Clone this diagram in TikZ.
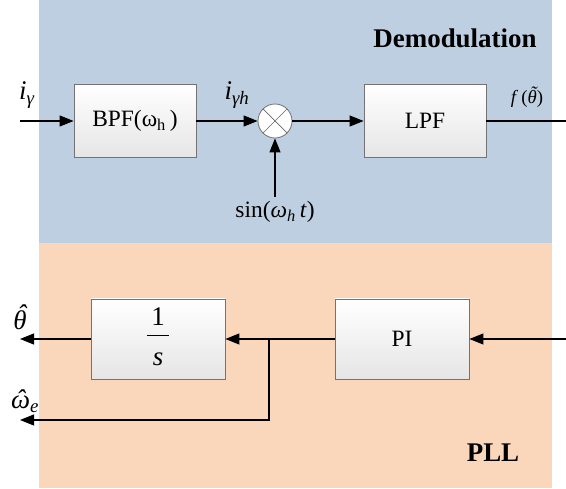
\documentclass[tikz,border=0pt]{standalone}
\usepackage{fontspec}
\setmainfont{Liberation Serif}
\usetikzlibrary{arrows.meta,calc,positioning}
\definecolor{demodblue}{RGB}{190,207,226}
\definecolor{pllorange}{RGB}{250,215,186}
\newcommand{\sub}[1]{\textsubscript{\itshape #1}}
\newcommand{\hatof}[1]{\accent"02C6 #1}
\newcommand{\tildeof}[1]{\accent"02DC #1}

\begin{document}
\begin{tikzpicture}[font=\fontsize{20}{23}\selectfont,
    blk/.style={draw=black!55,line width=0.7pt,top color=white,bottom color=black!10,
      minimum width=3.66cm,minimum height=2.19cm,inner sep=0pt},
    bigblk/.style={blk,minimum width=4.02cm,minimum height=2.4cm},
    sig/.style={line width=0.9pt,-{Triangle[length=4.2mm,width=3.3mm]}},
    wire/.style={line width=0.9pt},
    title/.style={font=\fontsize{23}{26}\selectfont\bfseries},
    var/.style={font=\fontsize{23}{26}\selectfont\itshape}]
  \useasboundingbox (0,0) rectangle (16.98,14.67);
  \fill[demodblue] (1.17,7.38) rectangle (16.56,14.67);
  \fill[pllorange] (1.17,0.03) rectangle (16.56,7.38);
  \node[title] (demodname) at (13.65,13.53) {Demodulation};
  \node[title] (pllname) at (14.79,1.08) {PLL};
  % demodulation
  \coordinate (in) at (0.6,11.04);
  \node[blk] (bpf) at (4.05,11.04) {BPF(ω\textsubscript{h}\,)};
  \node[circle,draw=black!55,line width=0.7pt,fill=white,minimum size=1.02cm,
    path picture={\draw[black!60,line width=0.6pt]
      (path picture bounding box.north west) -- (path picture bounding box.south east)
      (path picture bounding box.north east) -- (path picture bounding box.south west);}]
    (mix) at (8.25,11.04) {};
  \node[blk] (lpf) at (12.75,11.04) {LPF};
  \coordinate (out) at (16.98,11.04);
  \node (sinlbl) at (8.25,8.31) {sin(\textit{ω}\sub{h}\,\textit{t})};
  \node[var] (ilbl) at (0.81,11.82) {i\sub{γ}};
  \node[var] (ihlbl) at (7.11,11.82) {i\sub{γh}};
  \node[font=\fontsize{16}{18}\selectfont] (flbl) at (15.81,11.75) {\textit{f}\,(\textit{\tildeof{θ}})};
  \draw[sig] (in) -- (bpf);
  \draw[sig] (bpf) -- (mix);
  \draw[sig] (mix) -- (lpf);
  \draw[wire] (lpf) -- (out);
  \draw[sig] (sinlbl.north) -- (mix);
  % PLL
  \coordinate (pin) at (16.98,4.5);
  \node[bigblk] (pi) at (12.06,4.5) {PI};
  \node[bigblk,font=\fontsize{23}{26}\selectfont] (integ) at (4.74,4.5)
    {\begin{tabular}{@{}c@{}}1\\[-17pt]\rule{0.66cm}{0.7pt}\\[-1pt]\textit{s}\end{tabular}};
  \coordinate (jn) at (8.07,4.5);
  \coordinate (thout) at (0.6,4.5);
  \coordinate (wout) at (0.6,2.07);
  \node[var] (thlbl) at (0.6,5.15) {\hatof{θ}};
  \node[var] (wlbl) at (0.75,2.63) {\hatof{ω}\sub{e}};
  \draw[sig] (pin) -- (pi);
  \draw[sig] (pi) -- (integ);
  \draw[sig] (integ) -- (thout);
  \draw[sig] (jn) |- (wout);
\end{tikzpicture}
\end{document}
